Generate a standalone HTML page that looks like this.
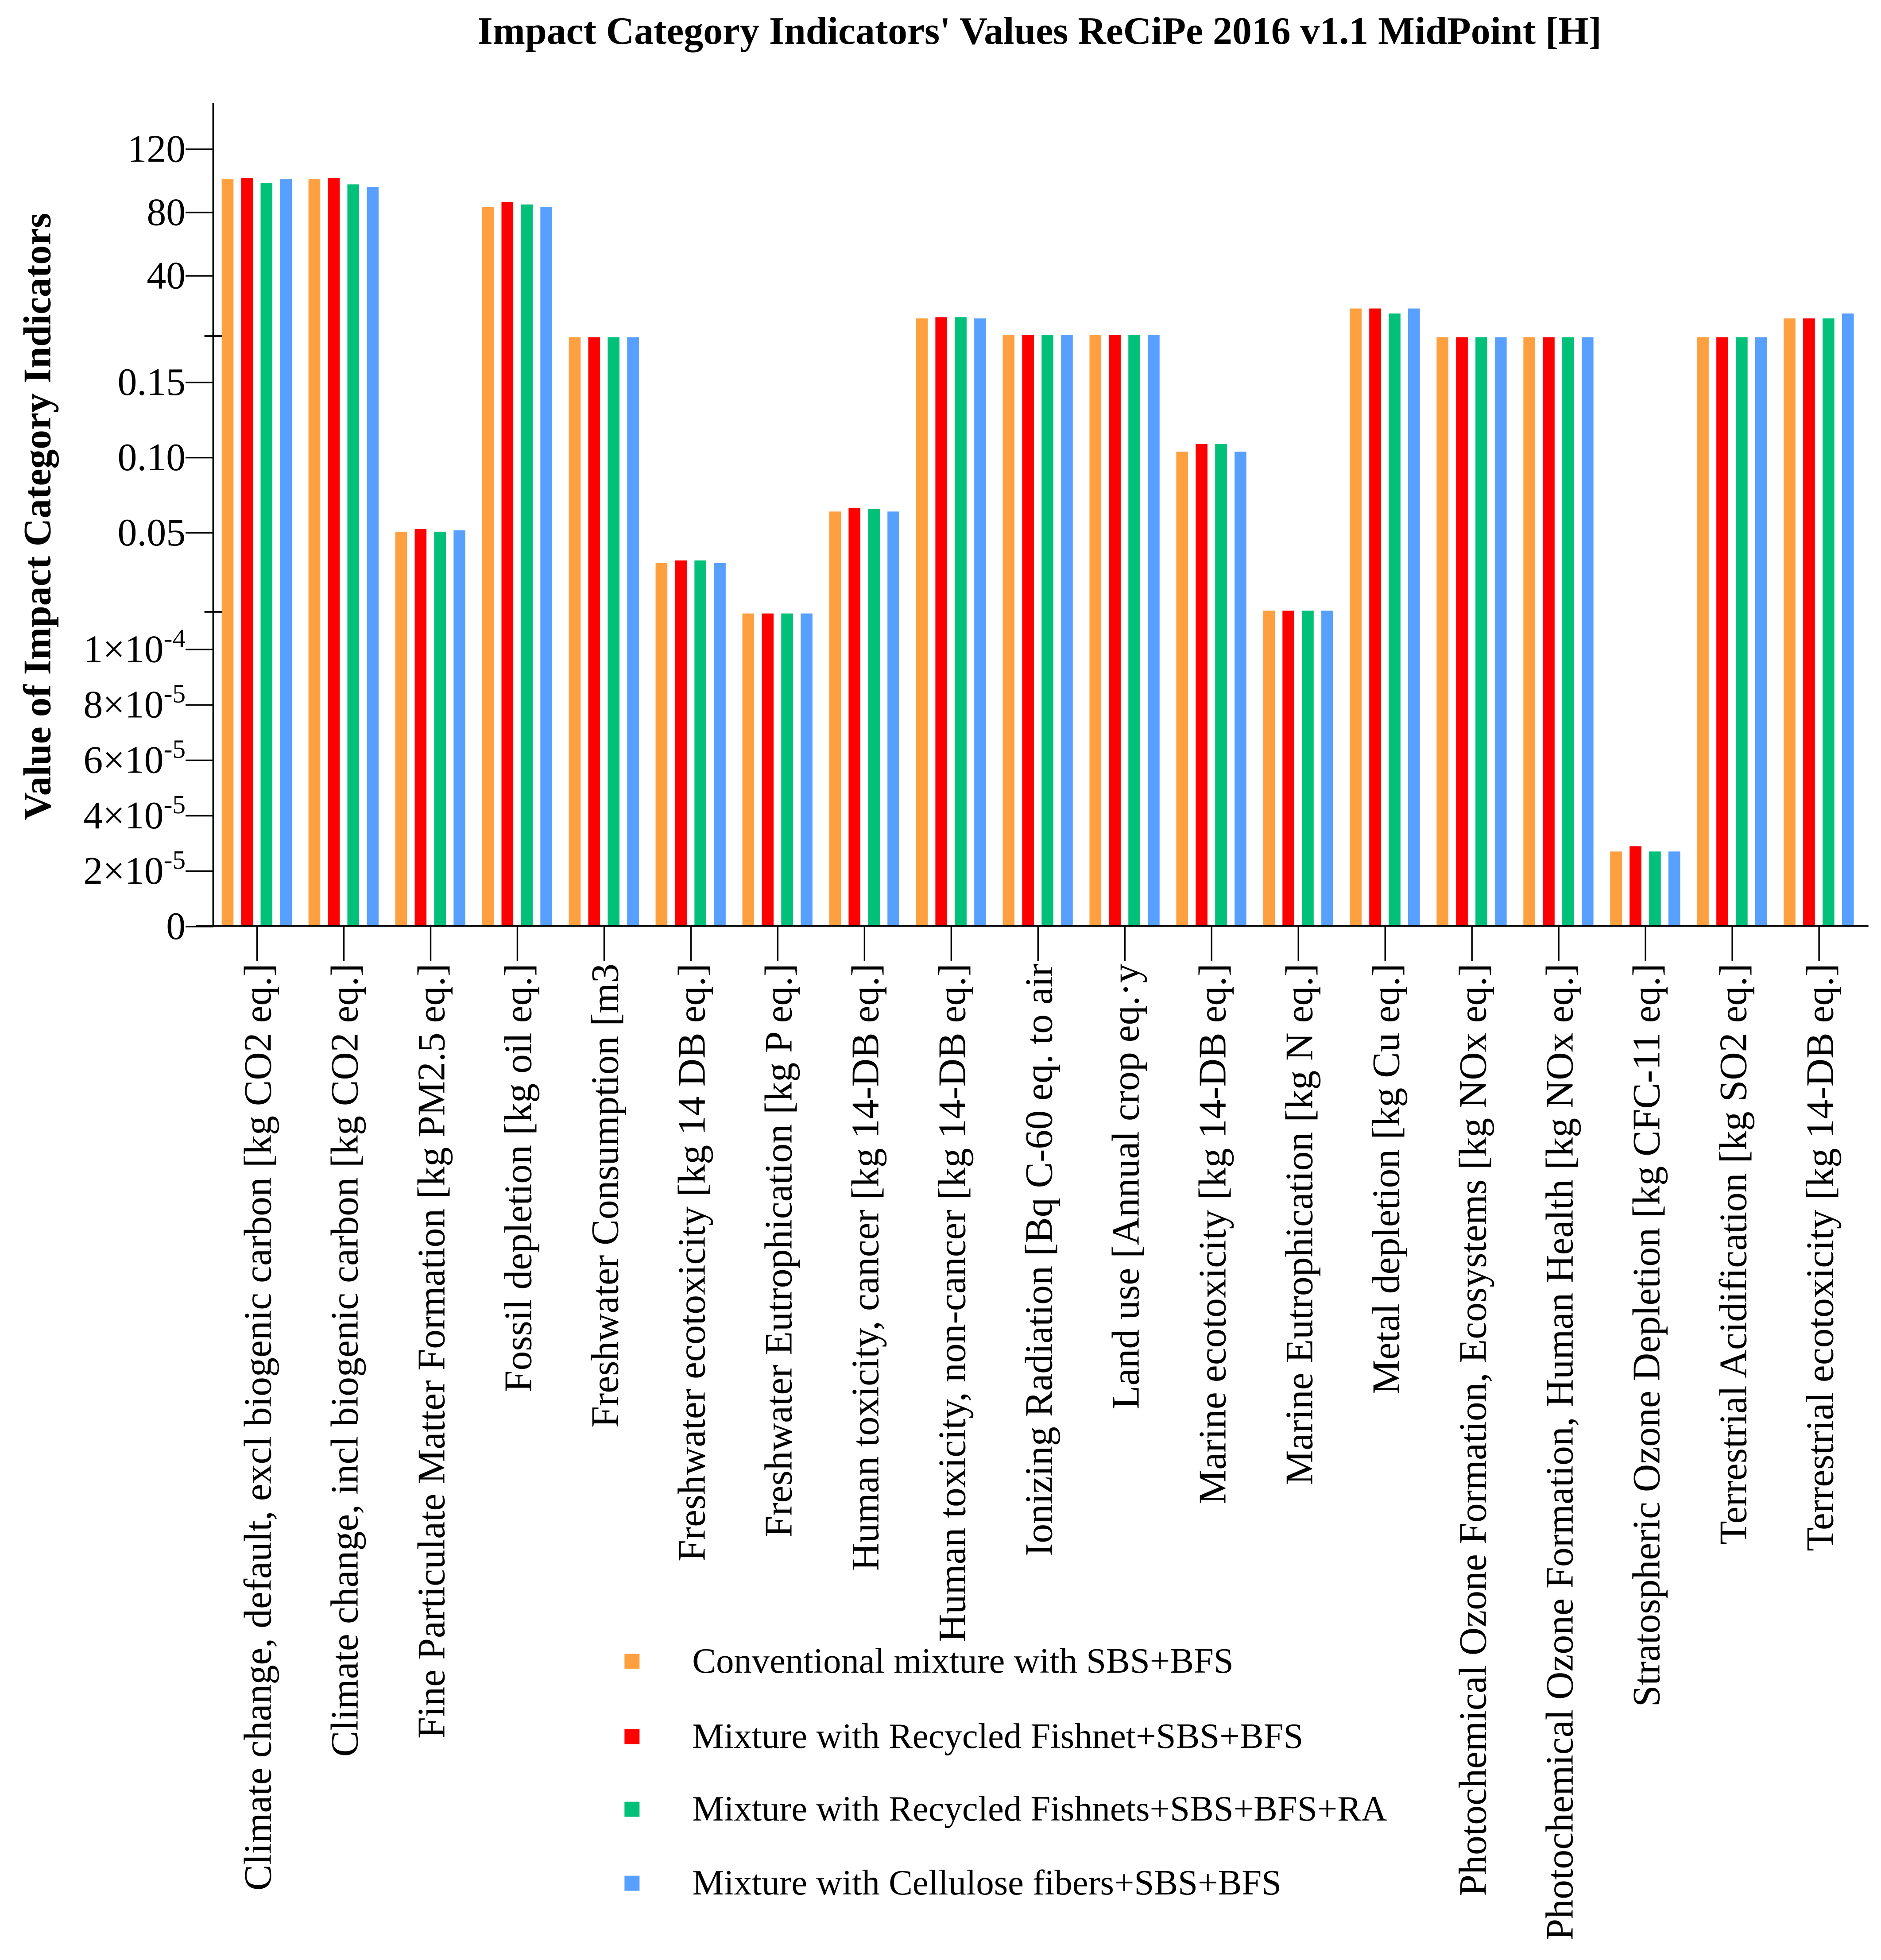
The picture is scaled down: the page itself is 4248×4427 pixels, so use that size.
<!DOCTYPE html>
<html><head><meta charset="utf-8"><style>
html,body{margin:0;padding:0;background:#fff;}
svg{display:block;font-family:"Liberation Serif",serif;}
</style></head><body>
<svg id="chart" width="4248" height="4427" viewBox="0 0 1500 1563.2" xmlns="http://www.w3.org/2000/svg">
<text x="829" y="35" text-anchor="middle" font-size="31" font-weight="bold">Impact Category Indicators' Values ReCiPe 2016 v1.1 MidPoint [H]</text>
<text transform="translate(40,412) rotate(-90)" text-anchor="middle" font-size="31" font-weight="bold">Value of Impact Category Indicators</text>
<g id="bars"></g>
<g id="axes"></g>
<g id="legend"></g>
</svg>
<script>
const categories = ["Climate change, default, excl biogenic carbon [kg CO2 eq.]","Climate change, incl biogenic carbon [kg CO2 eq.]","Fine Particulate Matter Formation [kg PM2.5 eq.]","Fossil depletion [kg oil eq.]","Freshwater Consumption [m3","Freshwater ecotoxicity [kg 14 DB eq.]","Freshwater Eutrophication [kg P eq.]","Human toxicity, cancer [kg 14-DB eq.]","Human toxicity, non-cancer [kg 14-DB eq.]","Ionizing Radiation [Bq C-60 eq. to air","Land use [Annual crop eq.·y","Marine ecotoxicity [kg 14-DB eq.]","Marine Eutrophication [kg N eq.]","Metal depletion [kg Cu eq.]","Photochemical Ozone Formation, Ecosystems [kg NOx eq.]","Photochemical Ozone Formation, Human Health [kg NOx eq.]","Stratospheric Ozone Depletion [kg CFC-11 eq.]","Terrestrial Acidification [kg SO2 eq.]","Terrestrial ecotoxicity [kg 14-DB eq.]"];
const seriesNames = ["Conventional mixture with SBS+BFS","Mixture with Recycled Fishnet+SBS+BFS","Mixture with Recycled Fishnets+SBS+BFS+RA","Mixture with Cellulose fibers+SBS+BFS"];
const seriesColors = ["#FFA040","#FF0000","#00C07A","#58A0FF"];
const conventional = [101,101,0.0508,83.6,0.18,0.030,1.13e-4,0.0642,13.1,2.8,2.8,0.104,1.14e-4,19.4,0.18,0.18,2.71e-5,0.18,13.1];
const fishnet = [101.8,101.8,0.0525,86.7,0.18,0.0317,1.13e-4,0.0667,13.9,2.8,2.8,0.109,1.14e-4,19.4,0.18,0.18,2.9e-5,0.18,13.1];
const fishnetRA = [98.6,97.8,0.0508,85.1,0.18,0.0317,1.13e-4,0.0658,13.9,2.8,2.8,0.109,1.14e-4,16.2,0.18,0.18,2.71e-5,0.18,13.1];
const cellulose = [101,96.2,0.0517,83.6,0.18,0.030,1.13e-4,0.0642,13.1,2.8,2.8,0.104,1.14e-4,19.4,0.18,0.18,2.71e-5,0.18,16.2];
const topTicks = [40,80,120];
const midTicks = [0.05,0.10,0.15];
const midTickLabels = ["0.05","0.10","0.15"];
const lowTicks = [0,2e-5,4e-5,6e-5,8e-5,1e-4];
const lowTickMant = ["0","2","4","6","8","1"];
const lowTickExp = ["","-5","-5","-5","-5","-4"];

const NS="http://www.w3.org/2000/svg";
function mk(tag,attrs,parent){const e=document.createElementNS(NS,tag);for(const k in attrs)e.setAttribute(k,attrs[k]);parent.appendChild(e);return e;}
const X0=170, XAXIS_Y=738.5;
function yScale(v){
  if(v<=1.15e-4) return 739 - v*2.21e6;
  if(v<=0.1815) return 425 - (v-0.05)*1200;
  return 220 - (v-40)*1.2625;
}
function xCenter(i){return 205 + i*69.2;}
const series=[conventional,fishnet,fishnetRA,cellulose];
const barsG=document.getElementById('bars');
const offsets=[-23.5,-8,7.5,23];
series.forEach((arr,s)=>{
  arr.forEach((v,i)=>{
    const y=yScale(v);
    const r=mk('rect',{x:xCenter(i)+offsets[s]-4.7,y:y,width:9.4,height:XAXIS_Y-y,fill:seriesColors[s]},barsG);
    
    
  });
});
const ax=document.getElementById('axes');
mk('line',{x1:X0,y1:82,x2:X0,y2:XAXIS_Y,stroke:'#000','stroke-width':1.3},ax);
mk('line',{x1:X0-14,y1:XAXIS_Y,x2:1490,y2:XAXIS_Y,stroke:'#000','stroke-width':1.3},ax);
[268,488].forEach(y=>{mk('line',{x1:X0-7,y1:y,x2:X0+7,y2:y,stroke:'#000','stroke-width':1.3},ax);});
function tickLabel(y){const t=mk('text',{x:X0-22,y:y+10,'text-anchor':'end','font-size':31},ax);
  
  
  return t;}
topTicks.forEach(v=>{const y=yScale(v);mk('line',{x1:X0-22,y1:y,x2:X0,y2:y,stroke:'#000','stroke-width':1.2},ax);
  tickLabel(y).textContent=String(v);});
midTicks.forEach((v,i)=>{const y=yScale(v);mk('line',{x1:X0-22,y1:y,x2:X0,y2:y,stroke:'#000','stroke-width':1.2},ax);
  tickLabel(y).textContent=midTickLabels[i];});
lowTicks.forEach((v,i)=>{const y=yScale(v);mk('line',{x1:X0-22,y1:y,x2:X0,y2:y,stroke:'#000','stroke-width':1.2},ax);
  const t=tickLabel(y);
  if(lowTickExp[i]===""){t.textContent=lowTickMant[i];}
  else{t.textContent=lowTickMant[i]+"\u00d710";const sp=mk('tspan',{dy:-12,'font-size':21},t);sp.textContent=lowTickExp[i];}
});
categories.forEach((c,i)=>{const x=xCenter(i);
  mk('line',{x1:x,y1:XAXIS_Y,x2:x,y2:XAXIS_Y+28,stroke:'#000','stroke-width':1.2},ax);
  const t=mk('text',{transform:'translate('+(x+11)+','+(XAXIS_Y+30)+') rotate(-90)','text-anchor':'end','font-size':31},ax);
  t.textContent=c;
  
  
});
const lg=document.getElementById('legend');
const legY=[1325,1385,1443,1502];
seriesNames.forEach((n,s)=>{
  const g=mk('g',{},lg);
  
  
  mk('rect',{x:498,y:legY[s]-6,width:12,height:12,fill:seriesColors[s]},g);
  const t=mk('text',{x:552,y:legY[s]+9,'font-size':28.5},g);t.textContent=n;
});
</script>
</body></html>
